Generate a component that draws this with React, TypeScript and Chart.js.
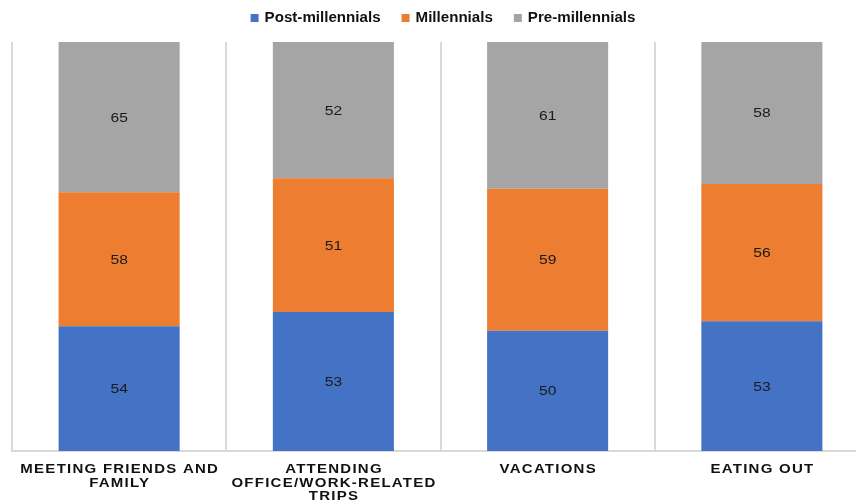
import React, { useEffect, useRef } from "react";
import { Chart, registerables } from "chart.js";

Chart.register(...registerables);

// Activity categories (wrapped into lines for the axis labels)
const categories: string[][] = [
  ["MEETING FRIENDS AND", "FAMILY"],
  ["ATTENDING", "OFFICE/WORK-RELATED", "TRIPS"],
  ["VACATIONS"],
  ["EATING OUT"],
];

const seriesNames = ["Post-millennials", "Millennials", "Pre-millennials"];
const postMillennials = [54, 53, 50, 53];
const millennials = [58, 51, 59, 56];
const preMillennials = [65, 52, 61, 58];
const seriesColors = ["#4472C4", "#ED7D31", "#A5A5A5"];

const seriesValues = [postMillennials, millennials, preMillennials];

// Each column is stacked to 100%: a segment's height is its value's share of the column total
const totals = categories.map((_, i) => seriesValues.reduce((s, arr) => s + arr[i], 0));
const shares = seriesValues.map((arr) => arr.map((v, i) => (v / totals[i]) * 100));

const FONT = '"Liberation Sans", Arial, sans-serif';

// Draws text stretched horizontally (wide-face look), centred or left-aligned at x
function drawWideText(
  ctx: CanvasRenderingContext2D,
  text: string,
  x: number,
  y: number,
  sx: number,
  align: "left" | "center",
  spacing = 0
) {
  ctx.save();
  ctx.translate(x, y);
  ctx.scale(sx, 1);
  (ctx as any).letterSpacing = `${spacing}px`;
  ctx.textAlign = align;
  ctx.fillText(text, align === "center" ? spacing / 2 : 0, 0);
  ctx.restore();
}

const legendPlugin = {
  id: "customLegend",
  afterDraw(chart: any) {
    const ctx = chart.ctx as CanvasRenderingContext2D;
    ctx.save();
    ctx.font = `bold 14px ${FONT}`;
    ctx.textBaseline = "alphabetic";
    const sx = 1.08;
    const box = 8;
    const boxGap = 6;
    const itemGap = 21;
    const widths = seriesNames.map((n) => ctx.measureText(n).width * sx);
    const total = widths.reduce((s, w) => s + box + boxGap + w, 0) + itemGap * (seriesNames.length - 1);
    const center = (chart.chartArea.left + chart.chartArea.right) / 2 + 2.5;
    let x = center - total / 2;
    seriesNames.forEach((name, i) => {
      ctx.fillStyle = seriesColors[i];
      ctx.fillRect(x, 14, box, box);
      ctx.fillStyle = "#111111";
      drawWideText(ctx, name, x + box + boxGap, 22, sx, "left");
      x += box + boxGap + widths[i] + itemGap;
    });
    ctx.restore();
  },
};

const categoryLabelPlugin = {
  id: "categoryLabels",
  afterDraw(chart: any) {
    const ctx = chart.ctx as CanvasRenderingContext2D;
    const xScale = chart.scales.x;
    ctx.save();
    ctx.font = `bold 12px ${FONT}`;
    ctx.fillStyle = "#111111";
    ctx.textBaseline = "alphabetic";
    categories.forEach((lines, i) => {
      const x = xScale.getPixelForValue(i);
      lines.forEach((line, j) => {
        drawWideText(ctx, line, x, chart.chartArea.bottom + 22 + j * 13.5, 1.25, "center", 1);
      });
    });
    ctx.restore();
  },
};

const valueLabelPlugin = {
  id: "valueLabels",
  afterDatasetsDraw(chart: any) {
    const ctx = chart.ctx as CanvasRenderingContext2D;
    ctx.save();
    ctx.font = `12.5px ${FONT}`;
    ctx.fillStyle = "#1A1A1A";
    ctx.textBaseline = "middle";
    seriesValues.forEach((values, d) => {
      const meta = chart.getDatasetMeta(d);
      meta.data.forEach((bar: any, i: number) => {
        const yc = (bar.y + bar.base) / 2;
        drawWideText(ctx, String(values[i]), bar.x, yc + 1, 1.25, "center");
      });
    });
    ctx.restore();
  },
};

export default function App() {
  const canvasRef = useRef<HTMLCanvasElement | null>(null);

  useEffect(() => {
    if (!canvasRef.current) return;
    const chart = new Chart(canvasRef.current, {
      type: "bar",
      data: {
        labels: categories.map((c) => c.join(" ")),
        datasets: seriesNames.map((name, d) => ({
          label: name,
          data: shares[d],
          backgroundColor: seriesColors[d],
          borderWidth: 0,
          categoryPercentage: 1,
          barPercentage: 0.565,
        })),
      },
      options: {
        animation: false,
        responsive: true,
        maintainAspectRatio: false,
        layout: { padding: { top: 42, left: 12, right: 3, bottom: 53 } },
        plugins: {
          legend: { display: false },
          tooltip: { enabled: false },
        },
        scales: {
          x: {
            stacked: true,
            grid: { color: "#D9D9D9", lineWidth: 2, drawTicks: false, offset: true },
            border: { color: "#D9D9D9", width: 2 },
            ticks: { display: false },
          },
          y: {
            stacked: true,
            display: false,
            min: 0,
            max: 100,
          },
        },
      },
      plugins: [legendPlugin, categoryLabelPlugin, valueLabelPlugin],
    });
    return () => chart.destroy();
  }, []);

  return (
    <div
      style={{
        position: "fixed",
        left: 0,
        top: 0,
        width: 856,
        height: 504,
        overflow: "hidden",
        background: "#ffffff",
      }}
    >
      <div style={{ position: "relative", width: 872, height: 504 }}>
        <canvas ref={canvasRef} />
      </div>
    </div>
  );
}
